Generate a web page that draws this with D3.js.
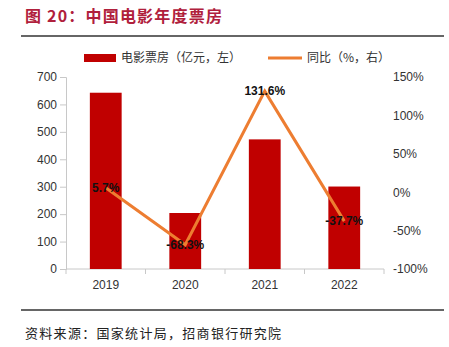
<!DOCTYPE html>
<html>
<head>
<meta charset="utf-8">
<script src="https://cdn.jsdelivr.net/npm/d3@7"></script>
<style>
  body { margin: 0; background: #fff; }
  svg { display: block; }
</style>
</head>
<body>
<div id="chart"></div>
<script>
////////////////////////////// data /////////////////////////////////
var years = ["2019", "2020", "2021", "2022"];
var boxOffice = [642.66, 204.17, 472.58, 300.67];   // 亿元
var yoy = [5.7, -68.3, 131.6, -37.7];               // %
var leftTicks = [0, 100, 200, 300, 400, 500, 600, 700];
var rightTicks = [-100, -50, 0, 50, 100, 150];

var W = 449, H = 347;
var margin = {top: 77, right: 65, bottom: 78, left: 66};
var plotW = W - margin.left - margin.right;
var plotH = H - margin.top - margin.bottom;

var svg = d3.select("#chart").append("svg")
  .attr("width", W)
  .attr("height", H);

var cjk = "'Noto Sans CJK SC', sans-serif";
var latin = "'Liberation Sans', Arial, sans-serif";

////////////////////////////// header / footer /////////////////////////////////
svg.append("text")
  .attr("x", 25).attr("y", 22)
  .attr("font-family", cjk)
  .attr("font-size", "16px")
  .attr("font-weight", "bold")
  .attr("letter-spacing", "1.2px")
  .attr("fill", "#b0203c")
  .text("图 20：中国电影年度票房");

svg.append("line")
  .attr("x1", 21).attr("x2", 444).attr("y1", 36).attr("y2", 36)
  .attr("stroke", "#333").attr("stroke-width", 1.5);

svg.append("line")
  .attr("x1", 21).attr("x2", 444).attr("y1", 310).attr("y2", 310)
  .attr("stroke", "#333").attr("stroke-width", 1.5);

svg.append("text")
  .attr("x", 25).attr("y", 338)
  .attr("font-family", cjk)
  .attr("font-size", "13px")
  .attr("letter-spacing", "1.3px")
  .attr("fill", "#222")
  .text("资料来源：国家统计局，招商银行研究院");

////////////////////////////// scales /////////////////////////////////
var x = d3.scaleBand().domain(years).range([0, plotW]).paddingInner(0.6).paddingOuter(0.3);
var xTick = d3.scaleBand().domain(years).range([0, plotW]);
var yL = d3.scaleLinear().domain([0, 700]).range([plotH, 0]);
var yR = d3.scaleLinear().domain([-100, 150]).range([plotH, 0]);

var g = svg.append("g")
  .attr("transform", "translate(" + margin.left + "," + margin.top + ")");

////////////////////////////// axes /////////////////////////////////
var axisL = g.append("g")
  .call(d3.axisLeft(yL).tickValues(leftTicks).tickSize(6).tickPadding(3));
axisL.select(".domain").attr("stroke", "#c8c8c8");
axisL.selectAll(".tick line").attr("stroke", "#c8c8c8");
axisL.selectAll("text")
  .attr("font-family", latin).attr("font-size", "12px").attr("fill", "#333");

var axisR = g.append("g")
  .attr("transform", "translate(" + plotW + ",0)")
  .call(d3.axisRight(yR).tickValues(rightTicks).tickSize(0).tickPadding(9)
    .tickFormat(function(d){ return d + "%"; }));
axisR.select(".domain").remove();
axisR.selectAll("text")
  .attr("font-family", latin).attr("font-size", "12px").attr("fill", "#333");

// category axis: ticks sit on the band boundaries
var axisX = g.append("g").attr("transform", "translate(0," + plotH + ")");
axisX.append("line")
  .attr("x1", 0).attr("x2", plotW)
  .attr("stroke", "#c8c8c8");
axisX.selectAll(".bt")
  .data(years.concat(["end"]))
  .enter().append("line")
  .attr("x1", function(d, i){ return i * xTick.step(); })
  .attr("x2", function(d, i){ return i * xTick.step(); })
  .attr("y1", 0).attr("y2", 5)
  .attr("stroke", "#c8c8c8");
axisX.selectAll(".xl")
  .data(years)
  .enter().append("text")
  .attr("x", function(d){ return xTick(d) + xTick.bandwidth() / 2; })
  .attr("y", 20)
  .attr("text-anchor", "middle")
  .attr("font-family", latin).attr("font-size", "12px").attr("fill", "#333")
  .text(function(d){ return d; });

////////////////////////////// bars /////////////////////////////////
g.selectAll(".bar")
  .data(years)
  .enter().append("rect")
  .attr("class", "bar")
  .attr("x", function(d){ return x(d); })
  .attr("width", x.bandwidth())
  .attr("y", function(d, i){ return yL(boxOffice[i]); })
  .attr("height", function(d, i){ return plotH - yL(boxOffice[i]); })
  .attr("fill", "#c00000");

////////////////////////////// line /////////////////////////////////
var line = d3.line()
  .x(function(d, i){ return x(years[i]) + x.bandwidth() / 2; })
  .y(function(d){ return yR(d); });

g.append("path")
  .datum(yoy)
  .attr("d", line)
  .attr("fill", "none")
  .attr("stroke", "#ed7d31")
  .attr("stroke-width", 3);

g.selectAll(".lbl")
  .data(yoy)
  .enter().append("text")
  .attr("x", function(d, i){ return x(years[i]) + x.bandwidth() / 2; })
  .attr("y", function(d){ return yR(d); })
  .attr("dy", "0.35em")
  .attr("text-anchor", "middle")
  .attr("font-family", latin).attr("font-size", "12px")
  .attr("font-weight", "bold").attr("fill", "#111")
  .text(function(d){ return d.toFixed(1) + "%"; });

////////////////////////////// legend /////////////////////////////////
var leg = svg.append("g");
leg.append("rect")
  .attr("x", 84).attr("y", 54).attr("width", 32).attr("height", 8)
  .attr("fill", "#c00000");
leg.append("text")
  .attr("x", 121).attr("y", 62)
  .attr("font-family", cjk).attr("font-size", "12px").attr("fill", "#333")
  .text("电影票房（亿元，左）");
leg.append("line")
  .attr("x1", 268).attr("x2", 302).attr("y1", 58).attr("y2", 58)
  .attr("stroke", "#ed7d31").attr("stroke-width", 3);
leg.append("text")
  .attr("x", 307).attr("y", 62)
  .attr("font-family", cjk).attr("font-size", "12px").attr("fill", "#333")
  .text("同比（%，右）");
</script>
</body>
</html>
